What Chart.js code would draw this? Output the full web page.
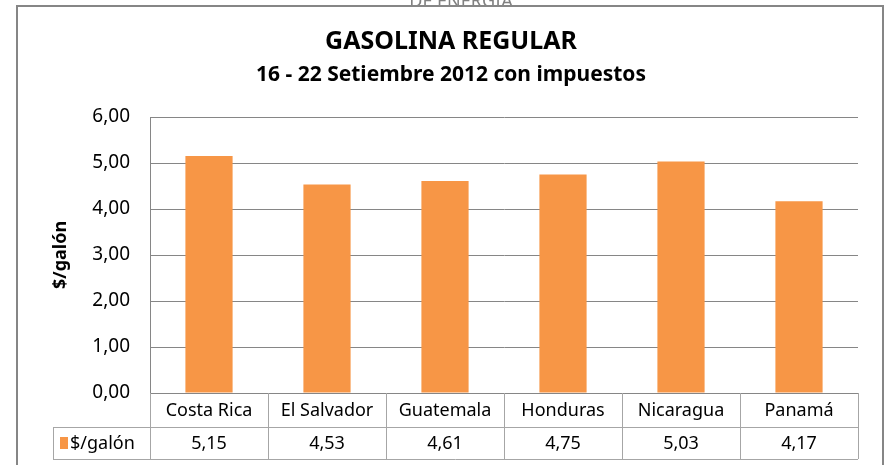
<!DOCTYPE html>
<html>
<head>
<meta charset="utf-8">
<script src="https://cdn.jsdelivr.net/npm/chart.js@4/dist/chart.umd.min.js"></script>
<style>
  html, body { margin: 0; padding: 0; background: #fff; }
  #grafico { display: block; }
</style>
</head>
<body>
<canvas id="grafico" width="888" height="465"></canvas>
<script>
// datos del grafico
const paises = ['Costa Rica', 'El Salvador', 'Guatemala', 'Honduras', 'Nicaragua', 'Panamá'];
const precios = [5.15, 4.53, 4.61, 4.75, 5.03, 4.17];
const serieNombre = '$/galón';
const tituloTexto = 'GASOLINA REGULAR';
const subtituloTexto = '16 - 22 Setiembre 2012 con impuestos';

const FUENTE = '"Liberation Sans Narrow", "Noto Sans", sans-serif';
const NARANJA = '#F79646';
const GRIS = '#868686';

const fmt = (v) => v.toFixed(2).replace('.', ',');

// marco, titulos y tabla de datos
const tablaPlugin = {
  id: 'tablaDatos',
  beforeDraw(chart) {
    const ctx = chart.ctx;
    ctx.save();
    // texto cortado arriba
    ctx.fillStyle = '#808080';
    ctx.font = '18px ' + FUENTE;
    ctx.textAlign = 'center';
    ctx.textBaseline = 'alphabetic';
    ctx.fillText('DE ENERGIA', 461, 7);
    ctx.fillStyle = '#fff';
    ctx.fillRect(16, 6, 867, 465);
    // marco
    ctx.strokeStyle = GRIS;
    ctx.lineWidth = 2;
    ctx.strokeRect(17, 6, 866, 470);
    ctx.restore();
  },
  afterDraw(chart) {
    const ctx = chart.ctx;
    const x = chart.scales.x;
    const area = chart.chartArea;
    ctx.save();
    ctx.fillStyle = '#000';
    ctx.textAlign = 'center';
    ctx.textBaseline = 'middle';
    ctx.font = 'bold 25px ' + FUENTE;
    ctx.fillText(tituloTexto, 451, 42);
    ctx.font = 'bold 21px ' + FUENTE;
    ctx.fillText(subtituloTexto, 451, 75);

    // tabla
    const fila1 = area.bottom, fila2 = 427, fila3 = 459;
    const izq = 53;
    ctx.strokeStyle = '#A6A6A6';
    ctx.lineWidth = 1;
    ctx.beginPath();
    ctx.moveTo(area.left, fila2 + 0.5); ctx.lineTo(area.right, fila2 + 0.5);
    ctx.moveTo(izq, fila2 + 0.5); ctx.lineTo(area.left, fila2 + 0.5);
    ctx.moveTo(izq, fila3 + 0.5); ctx.lineTo(area.right, fila3 + 0.5);
    ctx.moveTo(izq + 0.5, fila2); ctx.lineTo(izq + 0.5, fila3);
    const paso = (area.right - area.left) / paises.length;
    for (let i = 0; i <= paises.length; i++) {
      const xx = Math.round(area.left + i * paso) + 0.5;
      ctx.moveTo(xx, fila1); ctx.lineTo(xx, fila3);
    }
    ctx.stroke();

    ctx.fillStyle = '#000';
    ctx.font = '18px ' + FUENTE;
    paises.forEach((p, i) => {
      const cx = x.getPixelForValue(i);
      ctx.fillText(p, cx, (fila1 + fila2) / 2 + 1);
      ctx.fillText(fmt(precios[i]), cx, (fila2 + fila3) / 2 + 1);
    });
    // leyenda
    ctx.fillStyle = NARANJA;
    ctx.fillRect(60, 437, 8, 12);
    ctx.fillStyle = '#000';
    ctx.textAlign = 'left';
    ctx.fillText(serieNombre, 70, (fila2 + fila3) / 2 + 1);
    ctx.restore();
  }
};

new Chart(document.getElementById('grafico'), {
  type: 'bar',
  data: {
    labels: paises,
    datasets: [{
      label: serieNombre,
      data: precios,
      backgroundColor: NARANJA,
      borderWidth: 0,
      categoryPercentage: 1,
      barPercentage: 0.4
    }]
  },
  options: {
    responsive: false,
    animation: false,
    layout: { padding: { left: 0, right: 30, top: 117, bottom: 72 } },
    plugins: {
      legend: { display: false },
      tooltip: { enabled: false }
    },
    scales: {
      x: {
        display: false
      },
      y: {
        min: 0,
        max: 6,
        afterFit: (s) => { s.width = 150; },
        ticks: {
          stepSize: 1,
          padding: 20,
          color: '#000',
          font: { family: FUENTE, size: 19 },
          callback: (v) => fmt(v)
        },
        grid: { color: GRIS, drawTicks: false },
        border: { color: GRIS },
        title: {
          display: true,
          text: serieNombre,
          color: '#000',
          font: { family: FUENTE, size: 18, weight: 'bold' },
          padding: { top: 50, bottom: 0 }
        }
      }
    }
  },
  plugins: [tablaPlugin]
});
</script>
</body>
</html>
